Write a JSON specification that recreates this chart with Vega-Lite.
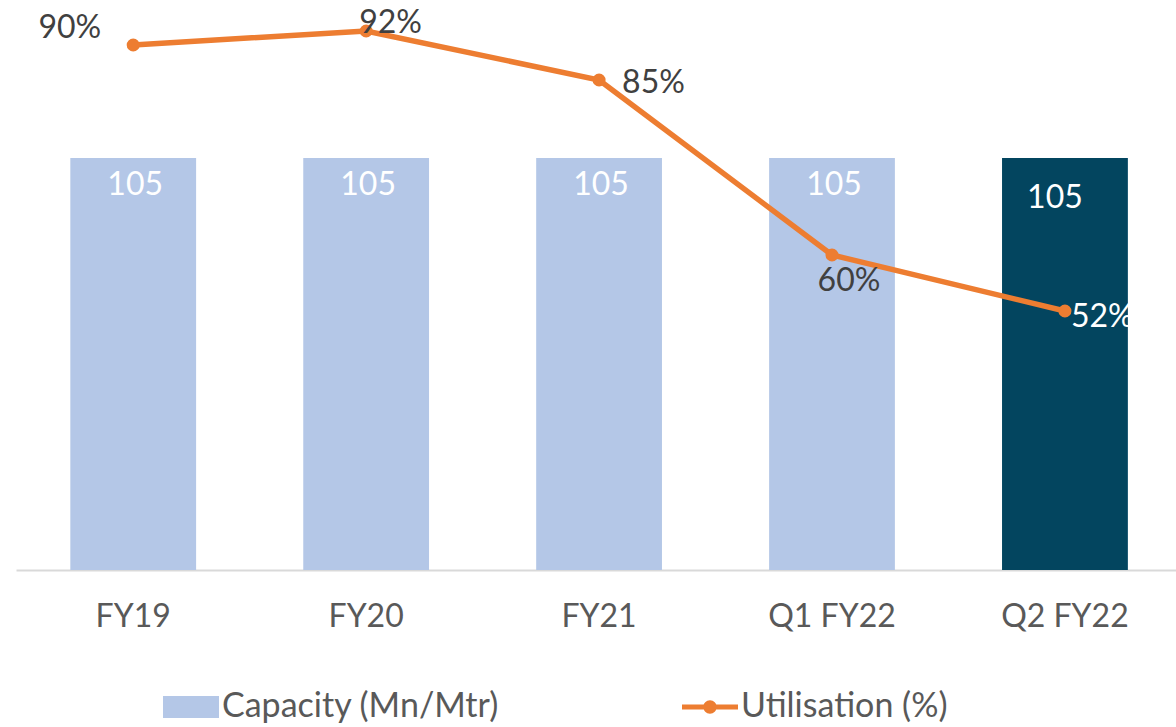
{
  "$schema": "https://vega.github.io/schema/vega-lite/v6.json",
  "width": 1160,
  "height": 560,
  "autosize": {"type": "none"},
  "padding": {"left": 16, "top": 10, "right": 0, "bottom": 157},
  "background": "white",
  "config": {
    "view": {"stroke": null},
    "font": "Lato",
    "text": {"font": "Lato"}
  },
  "data": {
    "values": [
      {"period": "FY19", "capacity": 105, "util": 0.90},
      {"period": "FY20", "capacity": 105, "util": 0.92},
      {"period": "FY21", "capacity": 105, "util": 0.85},
      {"period": "Q1 FY22", "capacity": 105, "util": 0.60},
      {"period": "Q2 FY22", "capacity": 105, "util": 0.52}
    ]
  },
  "encoding": {
    "x": {
      "field": "period",
      "type": "nominal",
      "sort": null,
      "scale": {"paddingInner": 0.46, "paddingOuter": 0.22, "align": 0.53},
      "axis": {
        "title": null,
        "labelAngle": 0,
        "ticks": false,
        "domainColor": "#D9D9D9",
        "domainWidth": 2,
        "labelFontSize": 32,
        "labelColor": "#595959",
        "labelFont": "Lato",
        "labelPadding": 31
      }
    }
  },
  "layer": [
    {
      "mark": {"type": "bar"},
      "encoding": {
        "y": {"field": "capacity", "type": "quantitative", "scale": {"domain": [0, 142.7]}, "axis": null},
        "color": {
          "datum": "Capacity (Mn/Mtr)",
          "type": "nominal",
          "scale": {"domain": ["Capacity (Mn/Mtr)", "Utilisation (%)"], "range": ["#B4C7E7", "#ED7D31"]},
          "legend": {
            "title": null,
            "orient": "none",
            "legendX": 147,
            "legendY": 669,
            "direction": "horizontal",
            "padding": 0,
            "labelFontSize": 34,
            "labelColor": "#595959",
            "labelFont": "Lato",
            "labelLimit": 0,
            "labelOffset": 3,
            "columnPadding": 182,
            "symbolSize": 3136,
            "symbolStrokeWidth": 0,
            "encode": {
              "symbols": {
                "update": {
                  "shape": {"signal": "datum.value === 'Utilisation (%)' ? 'M-1,-0.09 L1,-0.09 L1,0.09 L-1,0.09 Z M-0.24,0 A0.24,0.24 0 1,1 0.24,0 A0.24,0.24 0 1,1 -0.24,0 Z' : 'M-1,-0.39 L1,-0.39 L1,0.39 L-1,0.39 Z'"},
                  "fill": {"signal": "datum.value === 'Utilisation (%)' ? '#ED7D31' : '#B4C7E7'"},
                  "stroke": {"value": "transparent"},
                  "opacity": {"value": 1}
                }
              }
            }
          }
        }
      }
    },
    {
      "transform": [{"filter": "datum.period === 'Q2 FY22'"}],
      "mark": {"type": "bar", "color": "#03455F"},
      "encoding": {
        "y": {"field": "capacity", "type": "quantitative", "scale": {"domain": [0, 142.7]}, "axis": null}
      }
    },
    {
      "transform": [{"filter": "datum.period !== 'Q2 FY22'"}],
      "mark": {"type": "text", "color": "white", "fontSize": 32, "baseline": "middle", "dy": 27, "dx": 2},
      "encoding": {
        "y": {"field": "capacity", "type": "quantitative", "scale": {"domain": [0, 142.7]}, "axis": null},
        "text": {"field": "capacity", "type": "quantitative"}
      }
    },
    {
      "transform": [{"filter": "datum.period === 'Q2 FY22'"}],
      "mark": {"type": "text", "color": "white", "fontSize": 32, "baseline": "middle", "dy": 40, "dx": -10},
      "encoding": {
        "y": {"field": "capacity", "type": "quantitative", "scale": {"domain": [0, 142.7]}, "axis": null},
        "text": {"field": "capacity", "type": "quantitative"}
      }
    },
    {
      "mark": {"type": "line", "strokeWidth": 5.5},
      "encoding": {
        "y": {"field": "util", "type": "quantitative", "scale": {"domain": [0.15, 0.95], "zero": false}, "axis": null},
        "color": {"datum": "Utilisation (%)", "type": "nominal"}
      }
    },
    {
      "mark": {"type": "point", "filled": true, "size": 170, "color": "#ED7D31", "opacity": 1},
      "encoding": {
        "y": {"field": "util", "type": "quantitative", "scale": {"domain": [0.15, 0.95], "zero": false}, "axis": null}
      }
    },
    {
      "transform": [{"filter": "datum.period === 'FY19'"}],
      "mark": {"type": "text", "color": "#404040", "fontSize": 32, "baseline": "middle", "align": "right", "dx": -32, "dy": -17},
      "encoding": {
        "y": {"field": "util", "type": "quantitative", "scale": {"domain": [0.15, 0.95], "zero": false}, "axis": null},
        "text": {"field": "util", "type": "quantitative", "format": ".0%"}
      }
    },
    {
      "transform": [{"filter": "datum.period === 'FY20'"}],
      "mark": {"type": "text", "color": "#404040", "fontSize": 32, "baseline": "middle", "align": "left", "dx": -7, "dy": -8},
      "encoding": {
        "y": {"field": "util", "type": "quantitative", "scale": {"domain": [0.15, 0.95], "zero": false}, "axis": null},
        "text": {"field": "util", "type": "quantitative", "format": ".0%"}
      }
    },
    {
      "transform": [{"filter": "datum.period === 'FY21'"}],
      "mark": {"type": "text", "color": "#404040", "fontSize": 32, "baseline": "middle", "align": "left", "dx": 23, "dy": 3},
      "encoding": {
        "y": {"field": "util", "type": "quantitative", "scale": {"domain": [0.15, 0.95], "zero": false}, "axis": null},
        "text": {"field": "util", "type": "quantitative", "format": ".0%"}
      }
    },
    {
      "transform": [{"filter": "datum.period === 'Q1 FY22'"}],
      "mark": {"type": "text", "color": "#404040", "fontSize": 32, "baseline": "middle", "align": "center", "dx": 17, "dy": 26},
      "encoding": {
        "y": {"field": "util", "type": "quantitative", "scale": {"domain": [0.15, 0.95], "zero": false}, "axis": null},
        "text": {"field": "util", "type": "quantitative", "format": ".0%"}
      }
    },
    {
      "transform": [{"filter": "datum.period === 'Q2 FY22'"}],
      "mark": {"type": "text", "color": "white", "fontSize": 32, "baseline": "middle", "align": "left", "dx": 6, "dy": 6},
      "encoding": {
        "y": {"field": "util", "type": "quantitative", "scale": {"domain": [0.15, 0.95], "zero": false}, "axis": null},
        "text": {"field": "util", "type": "quantitative", "format": ".0%"}
      }
    }
  ],
  "resolve": {"scale": {"y": "independent"}}
}
